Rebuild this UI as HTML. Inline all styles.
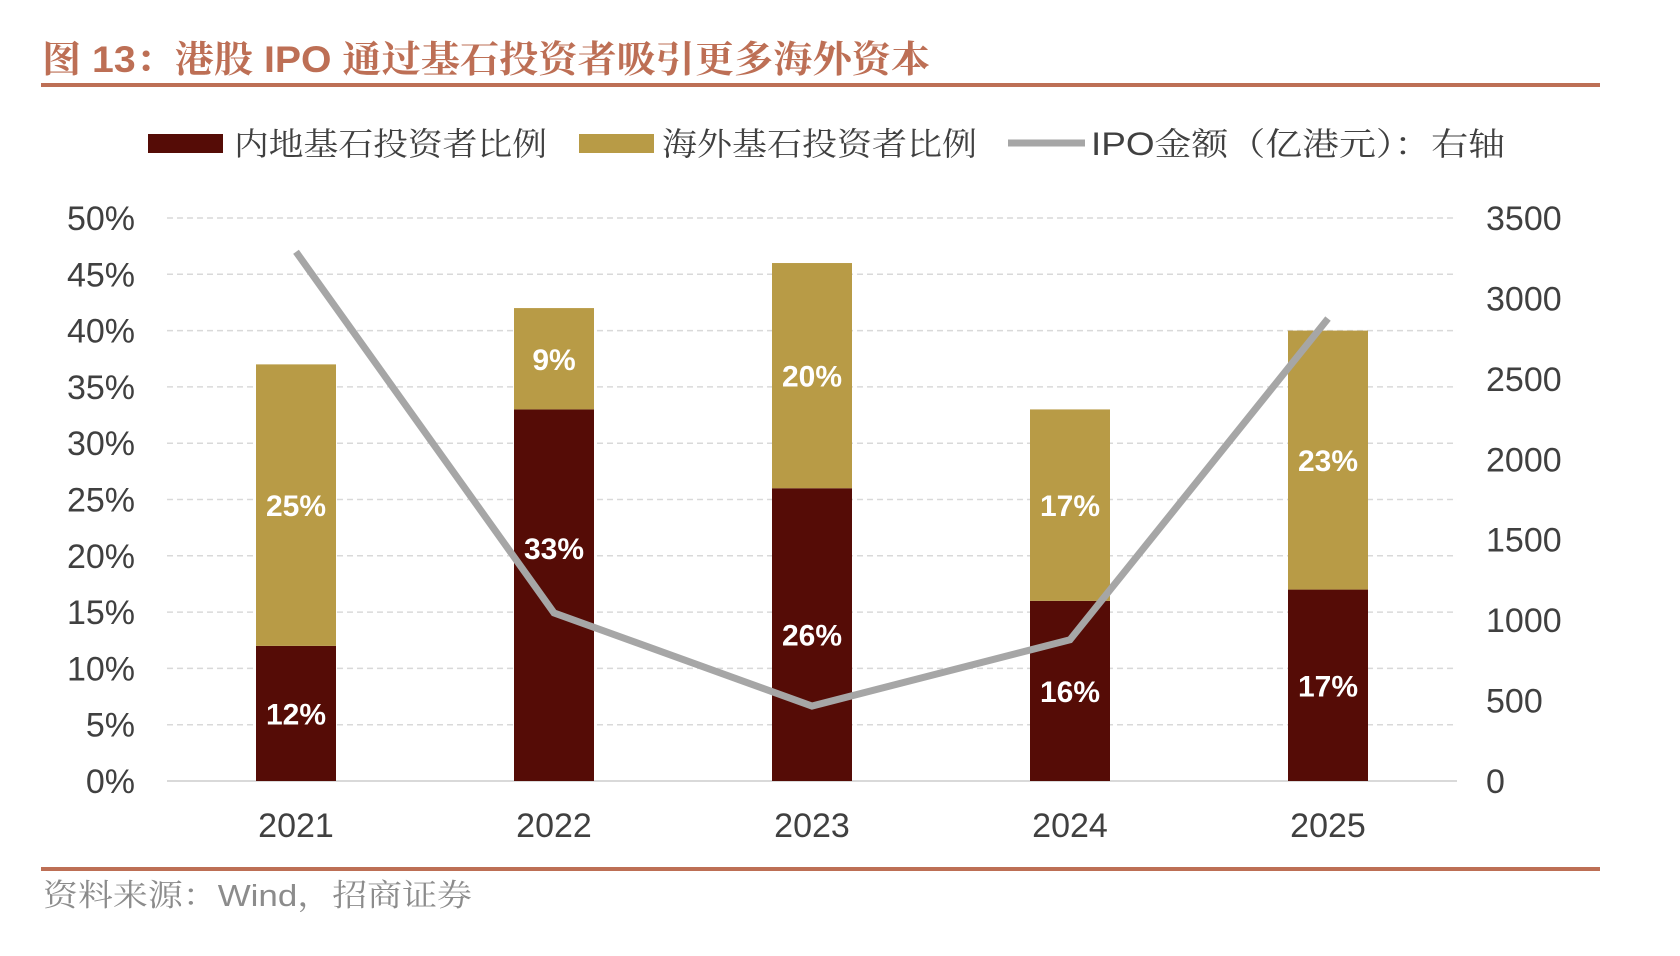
<!DOCTYPE html>
<html><head><meta charset="utf-8"><style>
html,body{margin:0;padding:0;background:#fff;}
svg{display:block;}
text{font-family:"Liberation Sans","Noto Sans CJK SC",sans-serif;}
.cjk{font-family:"Liberation Sans","Noto Serif CJK SC",serif;}
</style></head><body>
<svg id="chart" width="1680" height="956" viewBox="0 0 1680 956" xmlns="http://www.w3.org/2000/svg">
<text class="cjk" x="42" y="72" font-size="37" font-weight="bold" fill="#bd6f55" textLength="888" lengthAdjust="spacingAndGlyphs">图 13：港股 IPO 通过基石投资者吸引更多海外资本</text>
<rect x="41" y="83" width="1559" height="4" fill="#bd6f55"/>
<g>
<rect x="148" y="134" width="75" height="19" fill="#550c06"/>
<text class="cjk" x="234" y="155" font-size="32" fill="#404040" textLength="313" lengthAdjust="spacingAndGlyphs">内地基石投资者比例</text>
<rect x="579" y="134" width="75" height="19" fill="#b89b46"/>
<text class="cjk" x="662" y="155" font-size="32" fill="#404040" textLength="315" lengthAdjust="spacingAndGlyphs">海外基石投资者比例</text>
<line x1="1008" y1="143" x2="1085" y2="143" stroke="#a6a6a6" stroke-width="7"/>
<text class="cjk" x="1091" y="155" font-size="32" fill="#404040" textLength="414" lengthAdjust="spacingAndGlyphs">IPO金额（亿港元）：右轴</text>
</g>
<g id="grid"></g><g id="bars"></g><g id="line"></g><g id="labels"></g>
<rect x="41" y="867" width="1559" height="4" fill="#bd6f55"/>
<text class="cjk" x="43" y="906" font-size="31" fill="#8c8c8c" textLength="429" lengthAdjust="spacingAndGlyphs">资料来源：Wind，招商证券</text>
</svg>
<script>
const categories=['2021','2022','2023','2024','2025'];
const mainland=[12,33,26,16,17];
const overseas=[25,9,20,17,23];
const ipoAmount=[3290,1045,466,878,2875];
const leftTicks=[0,5,10,15,20,25,30,35,40,45,50];
const rightTicks=[0,500,1000,1500,2000,2500,3000,3500];
const NS='http://www.w3.org/2000/svg';
const X0=167,X1=1457,Y0=781,Y1=218;
const yL=v=>Y0-(v/50)*(Y0-Y1);
const yR=v=>Y0-(v/3500)*(Y0-Y1);
const band=(X1-X0)/categories.length;
const xC=i=>X0+band*(i+0.5);
function mk(tag,attrs,parent){const e=document.createElementNS(NS,tag);for(const k in attrs)e.setAttribute(k,attrs[k]);document.getElementById(parent).appendChild(e);return e;}
leftTicks.forEach(t=>{
 const y=yL(t);
 if(t>0){const g=mk('line',{x1:X0,x2:X1,y1:y,y2:y,stroke:'#d9d9d9','stroke-width':1.5,'stroke-dasharray':'6,4'},'grid');
 
 }
 const tx=mk('text',{x:135,y:y+12,'font-size':34,fill:'#404040','text-anchor':'end'},'labels');tx.textContent=t+'%';
 
 
});
const ax=mk('line',{x1:X0,x2:X1,y1:Y0,y2:Y0,stroke:'#d9d9d9','stroke-width':2},'grid');


rightTicks.forEach(t=>{
 const tx=mk('text',{x:1486,y:yR(t)+12,'font-size':34,fill:'#404040'},'labels');tx.textContent=t;
 
 
});
const bw=80;
categories.forEach((c,i)=>{
 const x=xC(i)-bw/2;
 const a=mk('rect',{x:x,y:yL(mainland[i]),width:bw,height:Y0-yL(mainland[i]),fill:'#550c06'},'bars');
 
 
 const top=mainland[i]+overseas[i];
 const b=mk('rect',{x:x,y:yL(top),width:bw,height:yL(mainland[i])-yL(top),fill:'#b89b46'},'bars');
 
 
 let ly=(yL(0)+yL(mainland[i]))/2+11;
 // nudge label up if it collides with the IPO line
 if(Math.abs(ly-11-yR(ipoAmount[i]))<40) ly=yR(ipoAmount[i])-54;
 const l1=mk('text',{x:xC(i),y:ly,'font-size':30,'font-weight':'bold',fill:'#fff','text-anchor':'middle'},'labels');l1.textContent=mainland[i]+'%';
 
 
 const l2=mk('text',{x:xC(i),y:(yL(mainland[i])+yL(top))/2+11,'font-size':30,'font-weight':'bold',fill:'#fff','text-anchor':'middle'},'labels');l2.textContent=overseas[i]+'%';
 
 
 const cx=mk('text',{x:xC(i),y:837,'font-size':34,fill:'#404040','text-anchor':'middle'},'labels');cx.textContent=c;
 
 
});
const pts=ipoAmount.map((v,i)=>xC(i)+','+yR(v)).join(' ');
const pl=mk('polyline',{points:pts,fill:'none',stroke:'#a6a6a6','stroke-width':7,'stroke-linejoin':'miter'},'line');


</script>
</body></html>
